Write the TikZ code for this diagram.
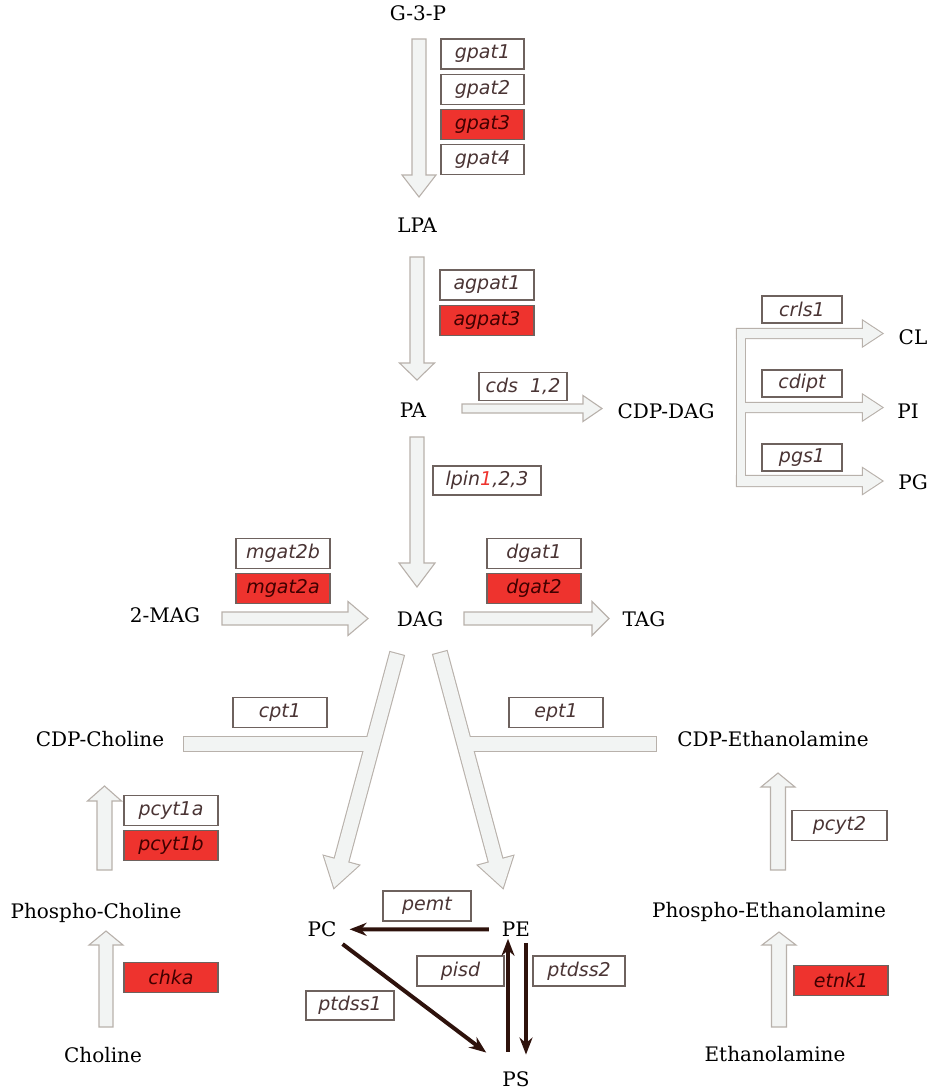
\documentclass[tikz,border=0pt]{standalone}
\usepackage{fontspec}
\setmainfont{DejaVu Serif}
\newfontfamily\genefont{DejaVu Sans}
\usetikzlibrary{positioning, calc, arrows.meta}

\definecolor{arrowfill}{HTML}{F2F4F3}
\definecolor{arrowrim}{HTML}{B8B1AB}
\definecolor{genebox}{HTML}{6E625E}
\definecolor{genetext}{HTML}{4A3434}
\definecolor{hitred}{HTML}{EE332E}
\definecolor{rxnbrown}{HTML}{2E120C}

\tikzset{
  mol/.style={font=\fontsize{20}{20}\selectfont, inner sep=2pt, anchor=base},
  gene/.style={draw=genebox, fill=white, line width=1.2pt, minimum width=#1,
    minimum height=30pt, inner sep=0pt, text=genetext,
    font=\genefont\itshape\fontsize{19}{19}\selectfont},
  gene/.default=94pt,
  hit/.style={gene=#1, fill=hitred, text=black!75!red},
  hit/.default=94pt,
  fat/.style={draw=arrowrim, fill=arrowfill, line width=1.1pt},
  fatrim/.style={draw=arrowrim, line width=2.2pt},
  fatfill/.style={fill=arrowfill},
  rxn/.style={draw=rxnbrown, line width=4pt, -{Stealth[length=17pt,width=13pt]}}
}

% start, angle, length, shaft, head, head length
\newcommand{\fatarrow}[7][fat]{%
  \path[#1, shift={(#2)}, rotate=#3]
    (0,-#5) -- (#4-#7,-#5) -- (#4-#7,-#6) -- (#4,0)
    -- (#4-#7,#6) -- (#4-#7,#5) -- (0,#5) -- cycle;}

\begin{document}
\begin{tikzpicture}[x=1pt, y=-1pt]
\useasboundingbox (0,0) rectangle (935,1092);

% glycerolipid backbone
\fatarrow{419,39}{-90}{158}{7}{17}{22}
\fatarrow{417,257}{-90}{123}{7}{17.5}{17}
\fatarrow{417,437}{-90}{150}{7}{18}{24}
\fatarrow{462,408.5}{0}{140}{4.5}{13}{19}
\fatarrow{222,618.5}{0}{146}{6.5}{17}{20}
\fatarrow{464,618.5}{0}{145}{6.5}{17}{17}
\fatarrow{106,1027}{90}{96}{7}{17}{14}
\fatarrow{104.5,870}{90}{84}{7.5}{17}{15}
\fatarrow{779,1027}{90}{95}{7.5}{17}{13}
\fatarrow{778,870}{90}{97}{7.5}{17}{14}

\foreach \s in {fatrim, fatfill} {
  \path[\s] (737,329) rectangle (745,486);
  \fatarrow[\s]{737,333.5}{0}{145}{4.5}{12.5}{19}
  \fatarrow[\s]{741,407.5}{0}{141}{4.5}{12.5}{19}
  \fatarrow[\s]{737,481}{0}{145}{5}{12.5}{19}
  \path[\s] (184,737) rectangle (373,751);
  \fatarrow[\s]{397,654}{-105.07}{242}{7}{18}{28}
  \path[\s] (464,737) rectangle (656,751);
  \fatarrow[\s]{440,653}{-74.99}{243}{7}{18}{28}
}

\node[gene=83pt] (gpat1) at (482.5,54) {gpat1};
\node[gene=83pt, below=4pt of gpat1] (gpat2) {gpat2};
\node[hit=83pt, below=4pt of gpat2] (gpat3) {gpat3};
\node[gene=83pt, below=4pt of gpat3] (gpat4) {gpat4};
\node[gene] (agpat1) at (487,285) {agpat1};
\node[hit, below=4pt of agpat1] (agpat3) {agpat3};
\node[gene=88pt, minimum height=28pt] (cds) at (523,386.5) {cds~~1,2};
\node[gene=80pt, minimum height=27pt] (crls1) at (802,309.5) {crls1};
\node[gene=80pt, minimum height=27pt] (cdipt) at (802,383.5) {cdipt};
\node[gene=80pt, minimum height=27pt] (pgs1) at (802,457.5) {pgs1};
\node[gene=108pt, minimum height=29pt] (lpin) at (487,480.5) {lpin\textcolor{hitred}{1},2,3};
\node[gene] (mgat2b) at (283,553.5) {mgat2b};
\node[hit, below=4pt of mgat2b] (mgat2a) {mgat2a};
\node[gene] (dgat1) at (534,553.5) {dgat1};
\node[hit, below=4pt of dgat1] (dgat2) {dgat2};
\node[gene] (cpt1) at (280,712.5) {cpt1};
\node[gene] (ept1) at (556,712.5) {ept1};
\node[gene] (pcyt1a) at (171,810.5) {pcyt1a};
\node[hit, below=4pt of pcyt1a] (pcyt1b) {pcyt1b};
\node[hit] (chka) at (171,977.5) {chka};
\node[gene=95pt] (pcyt2) at (839.5,825.5) {pcyt2};
\node[hit] (etnk1) at (841,980.5) {etnk1};
\node[gene=88pt] (pemt) at (427,906) {pemt};
\node[gene=87pt] (pisd) at (460.5,971) {pisd};
\node[gene=92pt] (ptdss2) at (579,971) {ptdss2};
\node[gene=88pt, minimum height=29pt] (ptdss1) at (350,1005.5) {ptdss1};

\node[mol] (g3p) at (418,20) {G-3-P};
\node[mol] (lpa) at (417,232.6) {LPA};
\node[mol] (pa) at (413,417.6) {PA};
\node[mol] (cdpdag) at (666,418.6) {CDP-DAG};
\node[mol] (cl) at (913,344.6) {CL};
\node[mol] (pi) at (908,418.6) {PI};
\node[mol] (pg) at (913,489.6) {PG};
\node[mol] (mag) at (165,622.6) {2-MAG};
\node[mol] (dag) at (420,626.6) {DAG};
\node[mol] (tag) at (644,626.6) {TAG};
\node[mol] (cdpcho) at (100,746.6) {CDP-Choline};
\node[mol] (cdpeth) at (773,746.6) {CDP-Ethanolamine};
\node[mol] (pcho) at (96,918.6) {Phospho-Choline};
\node[mol] (peth) at (769,917.6) {Phospho-Ethanolamine};
\node[mol] (cho) at (103,1062.6) {Choline};
\node[mol] (eth) at (775,1061.6) {Ethanolamine};
\node[mol] (PC) at (322,936.6) {PC};
\node[mol] (PE) at (516,936.6) {PE};
\node[mol] (PS) at (516,1086.6) {PS};

\draw[rxn] ([xshift=-11pt]PE.west) -- ([xshift=11pt]PC.east);
\draw[rxn] ($(PC.south east)+(4,5)$) -- ($(PS.north west)+(-14,-17)$);
\draw[rxn] ($(PS.north)+(-8,-18)$) -- ($(PE.south)+(-8,0)$);
\draw[rxn] ($(PE.south)+(10,4)$) -- ($(PS.north)+(10,-15)$);
\end{tikzpicture}
\end{document}
